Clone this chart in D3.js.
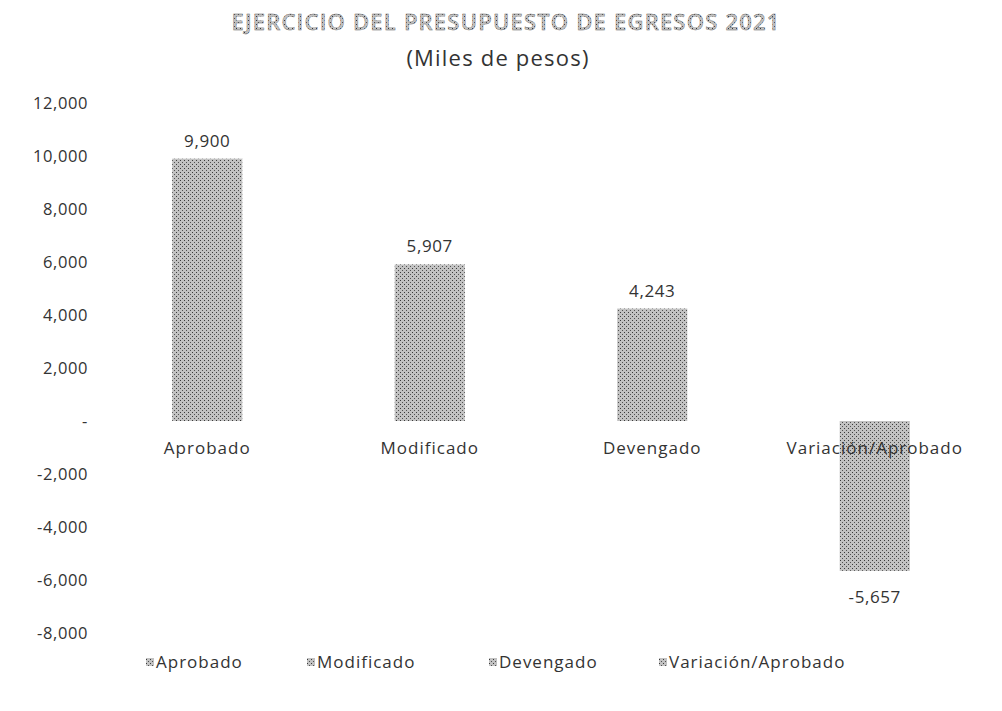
<!DOCTYPE html>
<html>
<head>
<meta charset="utf-8">
<script src="https://cdn.jsdelivr.net/npm/d3@7"></script>
<style>
  body { margin: 0; background: #fff; }
  svg text { font-family: "Open Sans", Lato, sans-serif; fill: #333; }
</style>
</head>
<body>
<div id="chart"></div>
<script>
// datos del ejercicio (miles de pesos)
const categorias = ["Aprobado", "Modificado", "Devengado", "Variación/Aprobado"];
const valores = [9900, 5907, 4243, -5657];
const etiquetas = ["9,900", "5,907", "4,243", "-5,657"];
const ticksY = [12000, 10000, 8000, 6000, 4000, 2000, 0, -2000, -4000, -6000, -8000];

const width = 1002, height = 711;
const fuente = "'Open Sans', Lato, sans-serif";

const svg = d3.select("#chart").append("svg")
    .attr("width", width)
    .attr("height", height);

// trama punteada tipo escaneo
const defs = svg.append("defs");
const pat = defs.append("pattern")
    .attr("id", "stipple")
    .attr("width", 4).attr("height", 4)
    .attr("patternUnits", "userSpaceOnUse");
pat.append("rect").attr("width", 4).attr("height", 4).attr("fill", "#c2c2c2");
pat.append("rect").attr("x", 0).attr("y", 0).attr("width", 1).attr("height", 1).attr("fill", "#3a3a3a");
pat.append("rect").attr("x", 2).attr("y", 2).attr("width", 1).attr("height", 1).attr("fill", "#505050");

const x = d3.scaleBand()
    .domain(categorias)
    .range([96, 986])
    .paddingInner(0.685)
    .paddingOuter(0.3425);

const y = d3.scaleLinear()
    .domain([-8000, 12000])
    .range([633, 103]);

// eje y sin linea
const fmt = d3.format(",");
const yAxis = d3.axisLeft(y)
    .tickValues(ticksY)
    .tickSize(0)
    .tickPadding(0)
    .tickFormat(d => d === 0 ? "-" : fmt(d).replace("−", "-"));

svg.append("g")
    .attr("class", "y axis")
    .attr("transform", "translate(88,0)")
    .call(yAxis)
    .call(g => g.select(".domain").remove())
    .selectAll("text")
    .attr("font-size", 16.5)
    .attr("letter-spacing", 0.6)
    .attr("fill", "#444")
    .style("font-family", fuente);

// barras
svg.append("g").selectAll("rect")
    .data(valores)
    .join("rect")
    .attr("x", (d, i) => x(categorias[i]))
    .attr("width", x.bandwidth())
    .attr("y", d => y(Math.max(0, d)))
    .attr("height", d => Math.abs(y(d) - y(0)))
    .attr("fill", "url(#stipple)");

// etiquetas de categoria
svg.append("g").selectAll("text")
    .data(categorias)
    .join("text")
    .attr("x", d => x(d) + x.bandwidth() / 2)
    .attr("y", y(0) + 33)
    .attr("text-anchor", "middle")
    .attr("font-size", 17)
    .attr("letter-spacing", 1)
    .attr("fill", "#333")
    .text(d => d);

// etiquetas de valor
svg.append("g").selectAll("text")
    .data(valores)
    .join("text")
    .attr("x", (d, i) => x(categorias[i]) + x.bandwidth() / 2)
    .attr("y", d => d >= 0 ? y(d) - 12 : y(d) + 32)
    .attr("text-anchor", "middle")
    .attr("font-size", 17)
    .attr("letter-spacing", 0.6)
    .attr("fill", "#333")
    .text((d, i) => etiquetas[i]);

// titulo
svg.append("text")
    .attr("x", 506).attr("y", 30)
    .attr("text-anchor", "middle")
    .attr("font-size", 22)
    .attr("font-weight", 600)
    .attr("letter-spacing", 1.2)
    .style("fill", "url(#stipple)")
    .style("stroke", "#666")
    .style("stroke-width", 0.4)
    .text("EJERCICIO DEL PRESUPUESTO DE EGRESOS 2021");

svg.append("text")
    .attr("x", 498).attr("y", 66)
    .attr("text-anchor", "middle")
    .attr("font-size", 22)
    .attr("letter-spacing", 1.2)
    .attr("fill", "#444")
    .text("(Miles de pesos)");

// leyenda
const legX = [146, 307, 489, 659];
const leg = svg.append("g").selectAll("g")
    .data(categorias)
    .join("g")
    .attr("transform", (d, i) => `translate(${legX[i]},663)`);
leg.append("rect")
    .attr("x", 0).attr("y", -5)
    .attr("width", 8).attr("height", 8)
    .attr("fill", "url(#stipple)");
leg.append("text")
    .attr("x", 10).attr("y", 5)
    .attr("font-size", 17)
    .attr("letter-spacing", 1)
    .attr("fill", "#333")
    .text(d => d);
</script>
</body>
</html>
